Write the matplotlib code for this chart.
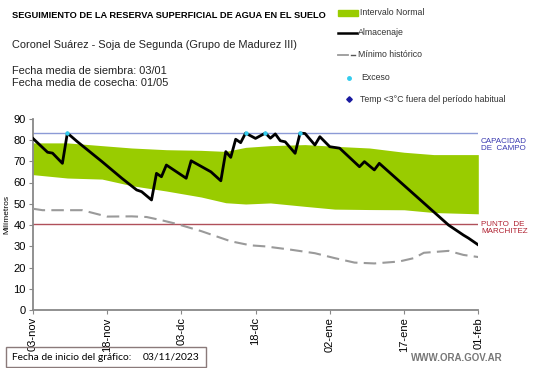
import numpy as np
import pandas as pd
import matplotlib
matplotlib.use("Agg")
import matplotlib.pyplot as plt
from matplotlib.lines import Line2D
from matplotlib.patches import Rectangle

# ---------------- data ----------------
start_date = "2023-11-03"
tick_days = [0, 15, 30, 45, 60, 75, 90]
tick_labels = ["03-nov", "18-nov", "03-dc", "18-dc", "02-ene", "17-ene", "01-feb"]

alm_days = [0, 3, 4, 6, 7, 9, 14, 18, 21, 22, 24, 25, 26, 27, 31, 32, 36, 38, 39, 40,
            41, 42, 43, 45, 47, 48, 49, 50, 51, 53, 54, 55, 57, 58, 60, 62, 66, 67,
            69, 70, 84, 87, 88, 90]
alm_vals = [80.8, 74.2, 73.8, 69.0, 83.2, 79.2, 69.8, 62.0, 56.5, 55.7, 51.8, 64.3,
            62.7, 68.2, 62.0, 70.2, 65.0, 60.8, 74.5, 71.8, 80.3, 78.7, 83.2, 80.7,
            83.2, 80.8, 82.8, 79.6, 79.1, 73.7, 83.2, 83.0, 77.6, 81.5, 76.8, 76.1,
            67.4, 69.8, 65.9, 69.0, 40.0, 35.3, 33.9, 30.7]

band_days = [0, 7, 14, 20, 27, 34, 39, 43, 48, 55, 61, 68, 75, 81, 90]
band_upper = [78.6, 78.6, 77.3, 76.2, 75.4, 75.1, 74.6, 76.5, 77.3, 77.8, 77.0, 76.2,
              74.2, 73.1, 73.1]
band_lower = [63.7, 62.1, 61.6, 58.5, 56.0, 53.2, 50.5, 49.9, 50.4, 48.8, 47.5, 47.3,
              47.2, 45.9, 45.3]

min_days = [0, 2, 10, 15, 20, 23, 26, 29, 34, 40, 44, 47, 52, 57, 61, 65, 69, 74, 77,
            79, 84, 87, 90]
min_vals = [47.7, 47.0, 47.0, 44.0, 44.1, 43.8, 42.3, 40.6, 37.2, 32.4, 30.5, 30.0,
            28.5, 26.8, 24.5, 22.4, 22.0, 22.9, 24.5, 27.0, 27.9, 26.0, 25.0]

exceso_days = [7, 43, 47, 54]
exceso_vals = [83.2, 83.2, 83.2, 83.2]

capacidad = 83.2
marchitez = 40.3

# ---------------- figure ----------------
W, H = 541, 368
plt.rcParams['font.family'] = ['Liberation Sans', 'DejaVu Sans']
fig = plt.figure(figsize=(W / 100, H / 100), dpi=100)

def fx(px):
    return px / W

def fy(py):
    return 1 - py / H

x0, x1 = 32.7, 478.3
y0, y1 = 118.6, 310.3
ax = fig.add_axes([fx(x0), fy(y1), fx(x1) - fx(x0), fy(y0) - fy(y1)])

base = pd.Timestamp(start_date)
to_dates = lambda d: [base + pd.Timedelta(days=int(v)) for v in d]

bd = to_dates(band_days)
ax.fill_between(bd, band_lower, band_upper, color="#99cc00", lw=0, zorder=1)
ax.axhline(capacidad, color="#8c9ad6", lw=1.0, zorder=2)
ax.axhline(marchitez, color="#b0505a", lw=1.0, zorder=2)
ax.plot(to_dates(min_days), min_vals, color="#9a9a9a", lw=1.5,
        dashes=(6, 3), zorder=3)
ax.plot(to_dates(alm_days), alm_vals, color="black", lw=2.0, zorder=4,
        solid_joinstyle="round")
ax.scatter(to_dates(exceso_days), exceso_vals, s=10, color="#33ccee",
           zorder=5, lw=0)

ax.set_xlim(base, base + pd.Timedelta(days=90))
ax.set_ylim(0, 90)
ax.set_yticks(np.arange(0, 91, 10))
ax.set_xticks(to_dates(tick_days))
ax.set_xticklabels(tick_labels, rotation=90, fontsize=8)
ax.tick_params(axis="y", labelsize=8, length=3, color="#888888", pad=2)
ax.tick_params(axis="x", length=3, color="#888888", pad=2)
for s in ["top", "right"]:
    ax.spines[s].set_visible(False)
for s in ["left", "bottom"]:
    ax.spines[s].set_color("#888888")
    ax.spines[s].set_linewidth(1.3)
ax.set_ylabel("Milímetros", fontsize=6, labelpad=2)

# right annotations
fig.text(fx(481), fy(145), "CAPACIDAD\nDE  CAMPO", fontsize=5.8, color="#3a3ab0",
         va="center", ha="left", linespacing=1.1)
fig.text(fx(481), fy(228), "PUNTO  DE\nMARCHITEZ", fontsize=5.8, color="#b02030",
         va="center", ha="left", linespacing=1.1)

# titles
fig.text(fx(12), fy(15.5), "SEGUIMIENTO DE LA RESERVA SUPERFICIAL DE AGUA EN EL SUELO",
         fontsize=6.65, fontweight="bold", va="center", ha="left")
fig.text(fx(12), fy(45), "Coronel Suárez - Soja de Segunda (Grupo de Madurez III)",
         fontsize=7.9, va="center", ha="left", color="#222222")
fig.text(fx(12), fy(71.5), "Fecha media de siembra: 03/01",
         fontsize=7.9, va="center", ha="left", color="#222222")
fig.text(fx(12), fy(83.5), "Fecha media de cosecha: 01/05",
         fontsize=7.9, va="center", ha="left", color="#222222")

# legend (manual)
LFS = 6.3
fig.patches.append(Rectangle((fx(338), fy(15.5)), fx(20), 5.5 / H,
                             transform=fig.transFigure, color="#99cc00"))
fig.text(fx(360), fy(12.5), "Intervalo Normal", fontsize=LFS, va="center", color="#333333")
fig.lines.append(Line2D([fx(338), fx(357)], [fy(32.5), fy(32.5)],
                        transform=fig.transFigure, color="black", lw=1.8))
fig.text(fx(358), fy(32.5), "Almacenaje", fontsize=LFS, va="center", color="#333333")
fig.lines.append(Line2D([fx(338), fx(348)], [fy(54.5), fy(54.5)],
                        transform=fig.transFigure, color="#9a9a9a", lw=1.3))
fig.lines.append(Line2D([fx(351), fx(355)], [fy(54.5), fy(54.5)],
                        transform=fig.transFigure, color="#555555", lw=1.0))
fig.text(fx(358), fy(54.5), "Mínimo histórico", fontsize=LFS, va="center", color="#333333")
fig.lines.append(Line2D([fx(349)], [fy(77.5)], transform=fig.transFigure,
                        marker="o", ms=2.5, color="#33ccee", lw=0))
fig.text(fx(361), fy(77.5), "Exceso", fontsize=LFS, va="center", color="#333333")
fig.lines.append(Line2D([fx(348.5)], [fy(99)], transform=fig.transFigure,
                        marker="D", ms=2.8, color="#1a1aa0", lw=0))
fig.text(fx(360), fy(99), "Temp <3°C fuera del período habitual", fontsize=LFS,
         va="center", color="#333333")

# bottom box
fig.patches.append(Rectangle((fx(6), fy(367)), fx(200), 20 / H,
                             transform=fig.transFigure, fill=False,
                             edgecolor="#8a7a7a", lw=1.0))
fig.text(fx(12), fy(357), "Fecha de inicio del gráfico:", fontsize=7.4,
         va="center", ha="left", family=["Lato", "DejaVu Sans"])
fig.text(fx(143), fy(357), "03/11/2023", fontsize=7.4,
         va="center", ha="left", family=["Lato", "DejaVu Sans"])
fig.text(fx(503), fy(358), "WWW.ORA.GOV.AR", fontsize=7, va="center", ha="right",
         color="#777777", fontweight="bold")

fig.savefig("out.png", dpi=100)
